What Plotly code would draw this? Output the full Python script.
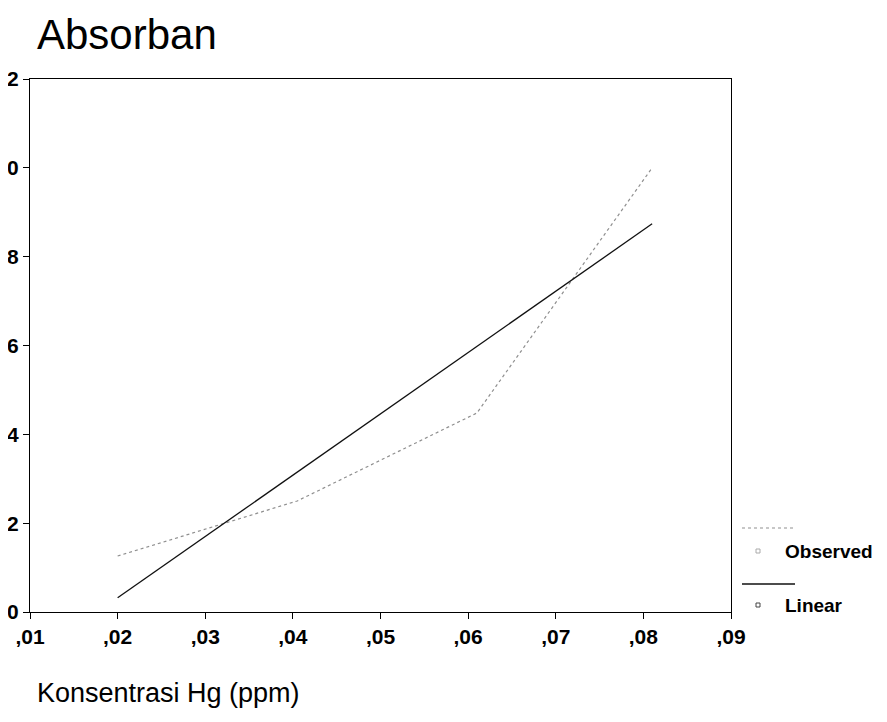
import plotly.graph_objects as go

# ---- data ----
konsentrasi = [0.0200, 0.0405, 0.0610, 0.0810]
observed = [0.00126, 0.00250, 0.00448, 0.01000]
linear_x = [0.0200, 0.0810]
linear_y = [0.00032, 0.00874]

x_tickvals = [0.01, 0.02, 0.03, 0.04, 0.05, 0.06, 0.07, 0.08, 0.09]
x_ticktext = [",01", ",02", ",03", ",04", ",05", ",06", ",07", ",08", ",09"]
y_tickvals = [0.0, 0.002, 0.004, 0.006, 0.008, 0.010, 0.012]
y_ticktext = ["0", "2", "4", "6", "8", "0", "2"]

W, H = 887, 722
OFF = 8  # default page body margin
# plot area in screen pixels
L, R, T, B = 30, 731, 79, 612
FONT = "Arial, Liberation Sans, Helvetica, sans-serif"


def px(x):
    return (x - L) / (R - L)


def py(y):
    return (B - y) / (B - T)


fig = go.Figure()
fig.add_trace(go.Scatter(x=konsentrasi, y=observed, mode="lines", name="Observed",
                         line=dict(color="#8f8f8f", width=1.2, dash="dot")))
fig.add_trace(go.Scatter(x=linear_x, y=linear_y, mode="lines", name="Linear",
                         line=dict(color="#111111", width=1.3)))

axis_common = dict(showgrid=False, zeroline=False, showline=True, linecolor="black",
                   linewidth=1.3, mirror=True, ticks="outside", ticklen=6,
                   tickcolor="black", tickwidth=1.3, automargin=False,
                   tickfont=dict(family=FONT, size=21, color="black", weight="bold"))

fig.update_xaxes(range=[0.01, 0.09], tickvals=x_tickvals, ticktext=x_ticktext, **axis_common)
fig.update_yaxes(range=[0, 0.012], tickvals=y_tickvals, ticktext=y_ticktext, **axis_common)

shapes = [
    dict(type="line", xref="paper", yref="paper", x0=px(742), x1=px(795), y0=py(528), y1=py(528),
         line=dict(color="#8f8f8f", width=1.2, dash="dot")),
    dict(type="line", xref="paper", yref="paper", x0=px(742), x1=px(795), y0=py(584), y1=py(584),
         line=dict(color="#111111", width=1.3)),
    dict(type="rect", xref="paper", yref="paper", x0=px(756), x1=px(760), y0=py(549), y1=py(553),
         line=dict(color="#aaaaaa", width=1)),
    dict(type="rect", xref="paper", yref="paper", x0=px(756), x1=px(760), y0=py(603), y1=py(607),
         line=dict(color="#444444", width=1)),
]

annotations = [
    dict(text="Absorban", xref="paper", yref="paper", x=px(35), y=py(35), xanchor="left",
         yanchor="middle", showarrow=False, font=dict(family=FONT, size=42, color="black")),
    dict(text="Konsentrasi Hg (ppm)", xref="paper", yref="paper", x=px(35), y=py(693),
         xanchor="left", yanchor="middle", showarrow=False,
         font=dict(family=FONT, size=27, color="black")),
    dict(text="Observed", xref="paper", yref="paper", x=px(783), y=py(551), xanchor="left",
         yanchor="middle", showarrow=False,
         font=dict(family=FONT, size=19, color="black", weight="bold")),
    dict(text="Linear", xref="paper", yref="paper", x=px(783), y=py(605), xanchor="left",
         yanchor="middle", showarrow=False,
         font=dict(family=FONT, size=19, color="black", weight="bold")),
]

fig.update_layout(width=W, height=H,
                  margin=dict(l=L - OFF, r=W - (R - OFF), t=T - OFF, b=H - (B - OFF)),
                  paper_bgcolor="white", plot_bgcolor="white", showlegend=False,
                  shapes=shapes, annotations=annotations)

fig.write_html("out.html")
